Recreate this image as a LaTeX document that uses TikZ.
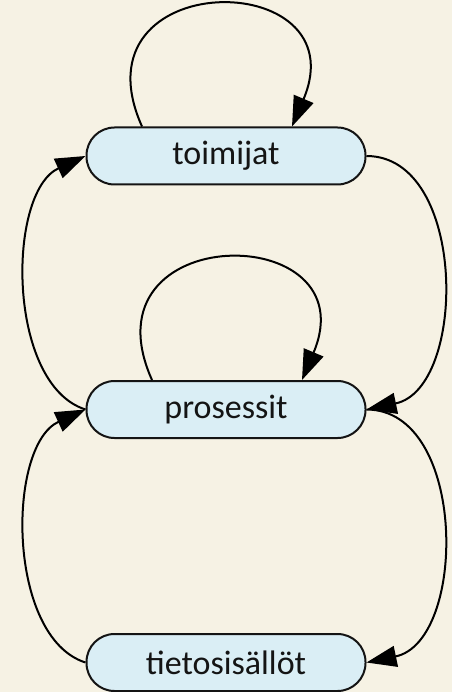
\documentclass[tikz,border=0pt]{standalone}
\usepackage{fontspec}
\setmainfont{Carlito}
\usetikzlibrary{arrows.meta}
\definecolor{bgcream}{RGB}{246,242,228}
\definecolor{nodeblue}{RGB}{218,238,245}
\definecolor{inkdark}{RGB}{20,20,20}
\begin{document}
\begin{tikzpicture}[x=1pt,y=-1pt,
  state/.style={draw=inkdark, line width=2pt, fill=nodeblue, rounded corners=28pt,
    minimum width=279pt, minimum height=57pt, inner sep=0pt,
    text=inkdark, font=\fontsize{34}{40}\selectfont},
  edge/.style={draw=black, line width=2pt, -{Triangle[length=30pt,width=21pt]}}]
\useasboundingbox[fill=bgcream] (0,0) rectangle (452,692);
\node[state] (t) at (226,156) {toimijat};
\node[state] (p) at (226,409.5) {prosessit};
\node[state] (s) at (226,662.5) {tietosisällöt};
% self loops
\draw[edge] ([xshift=-84pt]t.north) .. controls +(-72,-161) and +(68,-161) .. ([xshift=66pt]t.north);
\draw[edge] ([xshift=-74pt]p.north) .. controls +(-72,-161) and +(68,-161) .. ([xshift=76pt]p.north);
% right side
\draw[edge] (t.east) .. controls +(101,0) and +(101,-21) .. (p.east);
\draw[edge] (p.east) .. controls +(101,0) and +(101,-21) .. (s.east);
% left side
\draw[edge] (p.west) .. controls +(-79,-25) and +(-79,36) .. (t.west);
\draw[edge] (s.west) .. controls +(-79,-25) and +(-79,36) .. (p.west);
\end{tikzpicture}
\end{document}
